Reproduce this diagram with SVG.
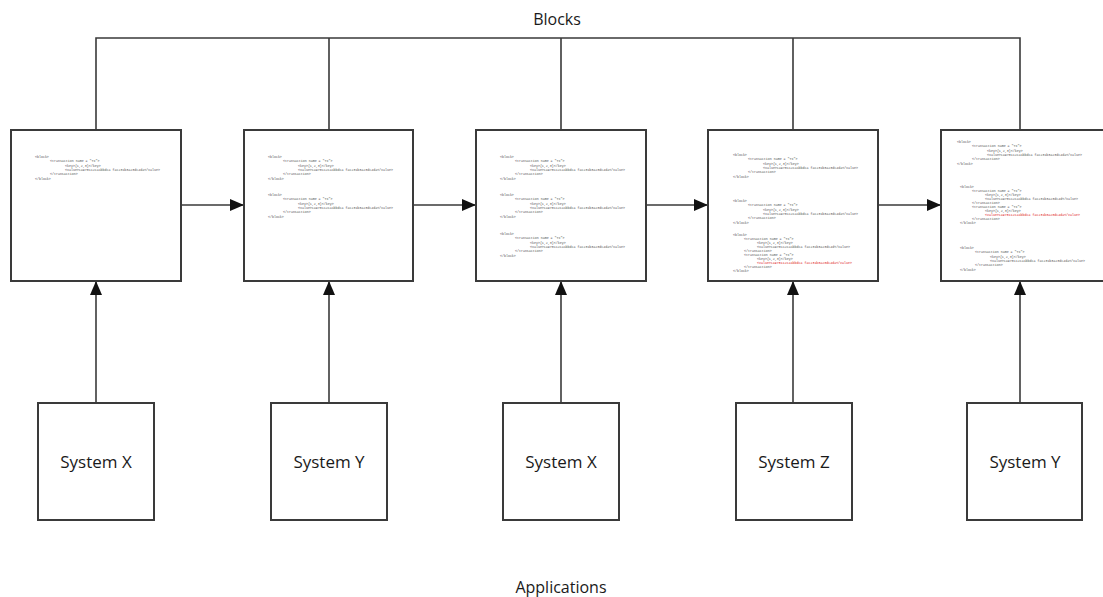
<svg xmlns="http://www.w3.org/2000/svg" width="1103" height="597" viewBox="0 0 1103 597">
  <defs>
    <style>
      .box { fill: #ffffff; stroke: #3a3a3a; stroke-width: 2; }
      .wire { fill: none; stroke: #3a3a3a; stroke-width: 1.6; }
      .label { font-family: "Open Sans", "Liberation Sans", sans-serif; font-size: 16px; fill: #1a1a1a; text-anchor: middle; }
      .sys { font-family: "Open Sans", "Liberation Sans", sans-serif; font-size: 17px; fill: #1a1a1a; text-anchor: middle; }
      .code { font-family: "Liberation Mono", "DejaVu Sans Mono", monospace; font-size: 3.3px; fill: #555555; }
      .conflict { fill: #e02020; }
    </style>
    <marker id="arrow" viewBox="0 0 14 12" refX="14" refY="6" markerWidth="14" markerHeight="12" markerUnits="userSpaceOnUse" orient="auto">
      <path d="M0,0 L14,6 L0,12 Z" fill="#111111"/>
    </marker>
  </defs>

  <rect width="1103" height="597" fill="#ffffff"/>

  <text class="label" x="557" y="25">Blocks</text>
  <text class="label" x="561" y="593">Applications</text>

  <!-- connectors -->
  <g id="connectors">
    <!-- shared top bus over the chain -->
    <path class="wire" d="M96,130 V38 H1020 V130 M329,38 V130 M561,38 V130 M793,38 V130"/>
    <!-- chain links between consecutive blocks -->
    <line class="wire" x1="181" y1="205" x2="244" y2="205" marker-end="url(#arrow)"/>
    <line class="wire" x1="413" y1="205" x2="476" y2="205" marker-end="url(#arrow)"/>
    <line class="wire" x1="646" y1="205" x2="708" y2="205" marker-end="url(#arrow)"/>
    <line class="wire" x1="878" y1="205" x2="941" y2="205" marker-end="url(#arrow)"/>
    <!-- applications writing into blocks -->
    <line class="wire" x1="96" y1="403" x2="96" y2="281" marker-end="url(#arrow)"/>
    <line class="wire" x1="329" y1="403" x2="329" y2="281" marker-end="url(#arrow)"/>
    <line class="wire" x1="561" y1="403" x2="561" y2="281" marker-end="url(#arrow)"/>
    <line class="wire" x1="793" y1="403" x2="793" y2="281" marker-end="url(#arrow)"/>
    <line class="wire" x1="1020" y1="403" x2="1020" y2="281" marker-end="url(#arrow)"/>
  </g>

  <!-- block 1 -->
  <g id="block1">
    <rect class="box" x="11" y="130" width="170" height="151"/>
    <g class="code">
      <text x="35" y="158">&lt;block&gt;</text>
      <text x="50" y="162.3">&lt;transaction name = "Tx"&gt;</text>
      <text x="65" y="166.6">&lt;key&gt;{1,2,3}&lt;/key&gt;</text>
      <text x="65" y="170.9">&lt;value&gt;ca978112ca1bbdca fac231b3a23dc4da&lt;/value&gt;</text>
      <text x="50" y="175.2">&lt;/transaction&gt;</text>
      <text x="35" y="179.5">&lt;/block&gt;</text>
    </g>
  </g>

  <!-- block 2 -->
  <g id="block2">
    <rect class="box" x="244" y="130" width="169" height="151"/>
    <g class="code">
      <text x="268" y="158">&lt;block&gt;</text>
      <text x="283" y="162.3">&lt;transaction name = "Tx"&gt;</text>
      <text x="298" y="166.6">&lt;key&gt;{1,2,3}&lt;/key&gt;</text>
      <text x="298" y="170.9">&lt;value&gt;ca978112ca1bbdca fac231b3a23dc4da&lt;/value&gt;</text>
      <text x="283" y="175.2">&lt;/transaction&gt;</text>
      <text x="268" y="179.5">&lt;/block&gt;</text>

      <text x="268" y="196">&lt;block&gt;</text>
      <text x="283" y="200.3">&lt;transaction name = "Tx"&gt;</text>
      <text x="298" y="204.6">&lt;key&gt;{1,2,3}&lt;/key&gt;</text>
      <text x="298" y="208.9">&lt;value&gt;ca978112ca1bbdca fac231b3a23dc4da&lt;/value&gt;</text>
      <text x="283" y="213.2">&lt;/transaction&gt;</text>
      <text x="268" y="217.5">&lt;/block&gt;</text>
    </g>
  </g>

  <!-- block 3 -->
  <g id="block3">
    <rect class="box" x="476" y="130" width="170" height="151"/>
    <g class="code">
      <text x="500" y="158">&lt;block&gt;</text>
      <text x="515" y="162.3">&lt;transaction name = "Tx"&gt;</text>
      <text x="530" y="166.6">&lt;key&gt;{1,2,3}&lt;/key&gt;</text>
      <text x="530" y="170.9">&lt;value&gt;ca978112ca1bbdca fac231b3a23dc4da&lt;/value&gt;</text>
      <text x="515" y="175.2">&lt;/transaction&gt;</text>
      <text x="500" y="179.5">&lt;/block&gt;</text>

      <text x="500" y="196">&lt;block&gt;</text>
      <text x="515" y="200.3">&lt;transaction name = "Tx"&gt;</text>
      <text x="530" y="204.6">&lt;key&gt;{1,2,3}&lt;/key&gt;</text>
      <text x="530" y="208.9">&lt;value&gt;ca978112ca1bbdca fac231b3a23dc4da&lt;/value&gt;</text>
      <text x="515" y="213.2">&lt;/transaction&gt;</text>
      <text x="500" y="217.5">&lt;/block&gt;</text>

      <text x="500" y="235">&lt;block&gt;</text>
      <text x="515" y="239.3">&lt;transaction name = "Tx"&gt;</text>
      <text x="530" y="243.6">&lt;key&gt;{1,2,3}&lt;/key&gt;</text>
      <text x="530" y="247.9">&lt;value&gt;ca978112ca1bbdca fac231b3a23dc4da&lt;/value&gt;</text>
      <text x="515" y="252.2">&lt;/transaction&gt;</text>
      <text x="500" y="256.5">&lt;/block&gt;</text>
    </g>
  </g>

  <!-- block 4 -->
  <g id="block4">
    <rect class="box" x="708" y="130" width="170" height="151"/>
    <g class="code">
      <text x="733" y="156">&lt;block&gt;</text>
      <text x="748" y="160.3">&lt;transaction name = "Tx"&gt;</text>
      <text x="763" y="164.6">&lt;key&gt;{1,2,3}&lt;/key&gt;</text>
      <text x="763" y="168.9">&lt;value&gt;ca978112ca1bbdca fac231b3a23dc4da&lt;/value&gt;</text>
      <text x="748" y="173.2">&lt;/transaction&gt;</text>
      <text x="733" y="177.5">&lt;/block&gt;</text>

      <text x="733" y="202">&lt;block&gt;</text>
      <text x="748" y="206.3">&lt;transaction name = "Tx"&gt;</text>
      <text x="763" y="210.6">&lt;key&gt;{1,2,3}&lt;/key&gt;</text>
      <text x="763" y="214.9">&lt;value&gt;ca978112ca1bbdca fac231b3a23dc4da&lt;/value&gt;</text>
      <text x="748" y="219.2">&lt;/transaction&gt;</text>
      <text x="733" y="223.5">&lt;/block&gt;</text>

      <text x="733" y="236">&lt;block&gt;</text>
      <text x="744" y="240">&lt;transaction name = "Tx"&gt;</text>
      <text x="757" y="244">&lt;key&gt;{1,2,3}&lt;/key&gt;</text>
      <text x="757" y="248">&lt;value&gt;ca978112ca1bbdca fac231b3a23dc4d&lt;/value&gt;</text>
      <text x="744" y="252">&lt;/transaction&gt;</text>
      <text x="744" y="256">&lt;transaction name = "Tx"&gt;</text>
      <text x="757" y="260">&lt;key&gt;{1,2,3}&lt;/key&gt;</text>
      <text x="757" y="264" class="conflict">&lt;value&gt;ca978112ca1bbdca fac231b3a23dc4da&lt;/value&gt;</text>
      <text x="744" y="268">&lt;/transaction&gt;</text>
      <text x="733" y="272">&lt;/block&gt;</text>
    </g>
  </g>

  <!-- block 5 -->
  <g id="block5">
    <rect class="box" x="941" y="130" width="170" height="151"/>
    <g class="code">
      <text x="957" y="143">&lt;block&gt;</text>
      <text x="972" y="147.3">&lt;transaction name = "Tx"&gt;</text>
      <text x="987" y="151.6">&lt;key&gt;{1,2,3}&lt;/key&gt;</text>
      <text x="987" y="155.9">&lt;value&gt;ca978112ca1bbdca fac231b3a23dc4da&lt;/value&gt;</text>
      <text x="972" y="160.2">&lt;/transaction&gt;</text>
      <text x="957" y="164.5">&lt;/block&gt;</text>

      <text x="960" y="188">&lt;block&gt;</text>
      <text x="972" y="192">&lt;transaction name = "Tx"&gt;</text>
      <text x="985" y="196">&lt;key&gt;{1,2,3}&lt;/key&gt;</text>
      <text x="985" y="200">&lt;value&gt;ca978112ca1bbdca fac231b3a23dc4d&lt;/value&gt;</text>
      <text x="972" y="204">&lt;/transaction&gt;</text>
      <text x="972" y="208">&lt;transaction name = "Tx"&gt;</text>
      <text x="985" y="212">&lt;key&gt;{1,2,3}&lt;/key&gt;</text>
      <text x="985" y="216" class="conflict">&lt;value&gt;ca978112ca1bbdca fac231b3a23dc4da&lt;/value&gt;</text>
      <text x="972" y="220">&lt;/transaction&gt;</text>
      <text x="960" y="224">&lt;/block&gt;</text>

      <text x="960" y="249">&lt;block&gt;</text>
      <text x="975" y="253.3">&lt;transaction name = "Tx"&gt;</text>
      <text x="990" y="257.6">&lt;key&gt;{1,2,3}&lt;/key&gt;</text>
      <text x="990" y="261.9">&lt;value&gt;ca978112ca1bbdca fac231b3a23dc4da&lt;/value&gt;</text>
      <text x="975" y="266.2">&lt;/transaction&gt;</text>
      <text x="960" y="270.5">&lt;/block&gt;</text>
    </g>
  </g>

  <!-- applications -->
  <g id="app1">
    <rect class="box" x="38" y="403" width="116" height="117"/>
    <text class="sys" x="96" y="468">System X</text>
  </g>
  <g id="app2">
    <rect class="box" x="271" y="403" width="116" height="117"/>
    <text class="sys" x="329" y="468">System Y</text>
  </g>
  <g id="app3">
    <rect class="box" x="503" y="403" width="116" height="117"/>
    <text class="sys" x="561" y="468">System X</text>
  </g>
  <g id="app4">
    <rect class="box" x="736" y="403" width="116" height="117"/>
    <text class="sys" x="794" y="468">System Z</text>
  </g>
  <g id="app5">
    <rect class="box" x="967" y="403" width="115" height="117"/>
    <text class="sys" x="1025" y="468">System Y</text>
  </g>
</svg>
